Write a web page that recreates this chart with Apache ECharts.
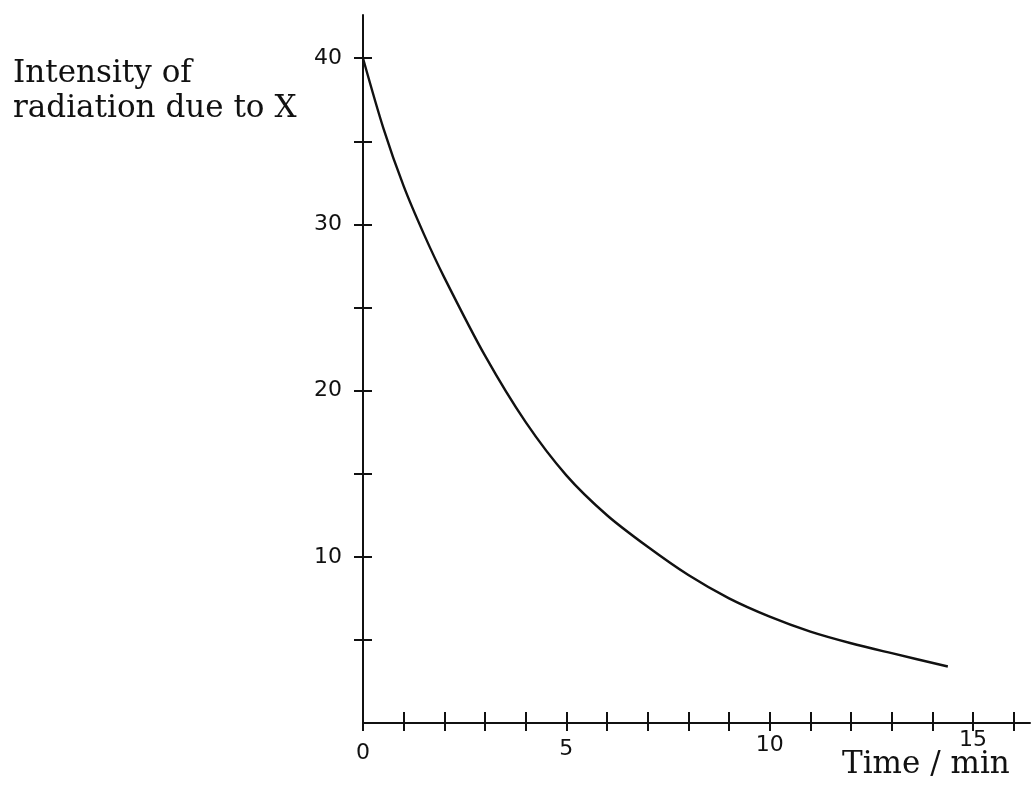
<!DOCTYPE html>
<html>
<head>
<meta charset="utf-8">
<script src="https://cdn.jsdelivr.net/npm/echarts@6/dist/echarts.min.js"></script>
<style>
  html, body { margin: 0; padding: 0; background: #fff; }
  #chart { width: 1032px; height: 794px; }
</style>
</head>
<body>
<div id="chart"></div>
<script>
// Values
const times      = [0, 0.5, 1, 1.5, 2, 3, 4, 5, 6, 7, 8, 9, 10, 11, 12, 13, 14.38];
const intensity  = [40, 35.8, 32.3, 29.4, 26.8, 22.1, 18.1, 14.9, 12.5, 10.6, 8.9, 7.5, 6.4, 5.5, 4.8, 4.2, 3.4];
const xTicks     = [0, 1, 2, 3, 4, 5, 6, 7, 8, 9, 10, 11, 12, 13, 14, 15, 16];
const xLabels    = [0, 5, 10, 15];
const yTicks     = [5, 10, 15, 20, 25, 30, 35, 40];
const yLabels    = [10, 20, 30, 40];
const yTitle     = ['Intensity of', 'radiation due to X'];
const xTitle     = 'Time / min';

const points = times.map((t, i) => [t, intensity[i]]);

const ink = '#111';
const serif = 'DejaVu Serif';
const tickFont = { fontFamily: 'DejaVu Sans', fontSize: 22, color: ink };

// the scanned x axis rises slightly to the right; label line heights follow it
const xLabelLine = { 0: 50, 5: 42, 10: 34, 15: 25 };
const xRich = {};
xLabels.forEach(v => {
  xRich['l' + v] = Object.assign({ lineHeight: xLabelLine[v], verticalAlign: 'middle' }, tickFont);
});

const chart = echarts.init(document.getElementById('chart'), null, { renderer: 'canvas' });

const xBase = { type: 'value', min: 0, max: 16.4, gridIndex: 0, splitLine: { show: false } };
const yBase = { type: 'value', min: 0, max: 42.6, gridIndex: 0, splitLine: { show: false } };
const tickLine = { color: ink, width: 2 };

chart.setOption({
  animation: false,
  backgroundColor: '#fff',
  grid: { left: 363, right: 2, top: 15, bottom: 71, containLabel: false },
  xAxis: [
    Object.assign({}, xBase, {
      axisLine: { show: true, onZero: false, lineStyle: { color: ink, width: 2 } },
      axisTick: { show: true, inside: false, length: 8, customValues: xTicks, lineStyle: tickLine },
      axisLabel: {
        show: true, margin: 5, customValues: xLabels,
        formatter: v => '{l' + v + '|' + v + '}',
        rich: xRich
      }
    }),
    Object.assign({}, xBase, {
      position: 'bottom',
      axisLine: { show: false, onZero: false },
      axisTick: { show: true, inside: true, length: 11, customValues: xTicks, lineStyle: tickLine },
      axisLabel: { show: false }
    })
  ],
  yAxis: [
    Object.assign({}, yBase, {
      axisLine: { show: true, onZero: false, lineStyle: { color: ink, width: 2 } },
      axisTick: { show: true, inside: false, length: 9, customValues: yTicks, lineStyle: tickLine },
      axisLabel: Object.assign({ show: true, margin: 21, customValues: yLabels }, tickFont)
    }),
    Object.assign({}, yBase, {
      position: 'left',
      axisLine: { show: false, onZero: false },
      axisTick: { show: true, inside: true, length: 9, customValues: yTicks, lineStyle: tickLine },
      axisLabel: { show: false }
    })
  ],
  series: [{
    type: 'line',
    xAxisIndex: 0,
    yAxisIndex: 0,
    data: points,
    smooth: 0.3,
    showSymbol: false,
    lineStyle: { color: ink, width: 2.4 }
  }],
  graphic: [
    { type: 'text', left: 13, top: 58, style: { text: yTitle[0], font: '31px "' + serif + '"', fill: ink } },
    { type: 'text', left: 13, top: 93, style: { text: yTitle[1], font: '31px "' + serif + '"', fill: ink } },
    { type: 'text', left: 842, top: 749, style: { text: xTitle, font: '31px "' + serif + '"', fill: ink } }
  ]
});
</script>
</body>
</html>
